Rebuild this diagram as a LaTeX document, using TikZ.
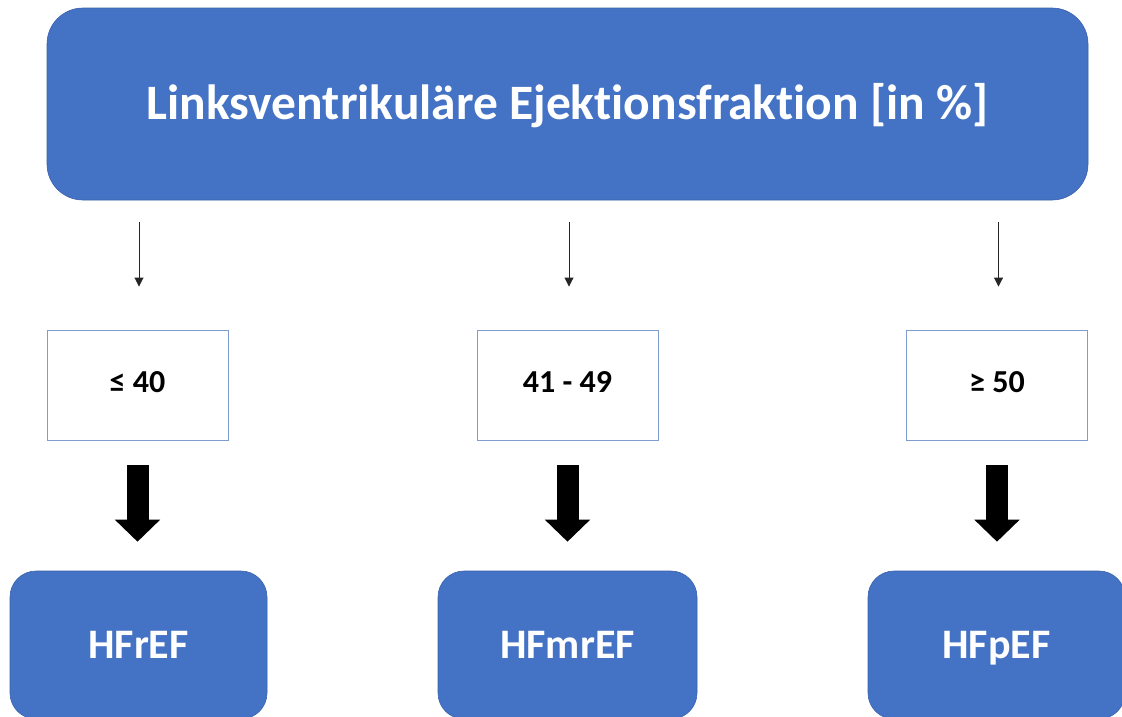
\documentclass[tikz,border=0pt]{standalone}
\usepackage{fontspec}
\setmainfont[Ligatures=NoCommon]{Carlito}
\usetikzlibrary{arrows.meta}
\definecolor{boxblue}{HTML}{4472C4}
\definecolor{boxedge}{HTML}{3A62AA}
\definecolor{thinedge}{HTML}{7F9CCF}
\tikzset{
  bluebox/.style={draw=boxedge, line width=0.6pt, fill=boxblue, text=white, font=\bfseries, inner sep=0pt, text depth=0pt},
  resultbox/.style={bluebox, rounded corners=26pt, minimum height=148pt, text height=27pt, font=\fontsize{42}{48}\selectfont\bfseries},
  valbox/.style={draw=thinedge, line width=0.9pt, fill=white, minimum width=181pt, minimum height=110pt, inner sep=0pt, text height=20pt, text depth=6pt, font=\fontsize{32}{36}\selectfont\bfseries},
  thinarrow/.style={draw=black!85, line width=0.9pt, -{Triangle[width=9pt,length=9pt]}},
  thickarrow/.style={draw=black, line width=22pt, -{Triangle[width=44pt,length=22pt]}}
}
\begin{document}
\begin{tikzpicture}[x=1pt,y=-1pt]
\useasboundingbox (0,0) rectangle (1122,716);
\begin{scope}
\clip (0,0) rectangle (1122,716);
\node[bluebox, rounded corners=36pt, minimum width=1041pt, minimum height=192pt, text height=31pt, font=\fontsize{49.5}{56}\selectfont\bfseries] (top) at (567.5,104) {Linksventrikuläre Ejektionsfraktion [in \%]};

\node[valbox] (s1) at (137.5,385) {≤ 40};
\node[valbox] (s2) at (567.5,385) {41 - 49};
\node[valbox] (s3) at (997,385) {≥ 50};

\node[resultbox, minimum width=257pt] (h1) at (138.5,645) {HFrEF};
\node[resultbox, minimum width=259pt] (h2) at (567.5,645) {HFmrEF};
\node[resultbox, minimum width=257pt] (h3) at (996.5,645) {HFpEF};

\foreach \s in {s1,s2,s3}{
  \draw[thinarrow] ([xshift=1.5pt,yshift=-22pt]\s.north |- top.south) -- ([xshift=1.5pt,yshift=43pt]\s.north);
}
\foreach \s/\h in {s1/h1,s2/h2,s3/h3}{
  \draw[thickarrow] ([yshift=-25pt]\s.south) -- ([yshift=29pt]\s.south |- \h.north);
}
\end{scope}
\end{tikzpicture}
\end{document}
